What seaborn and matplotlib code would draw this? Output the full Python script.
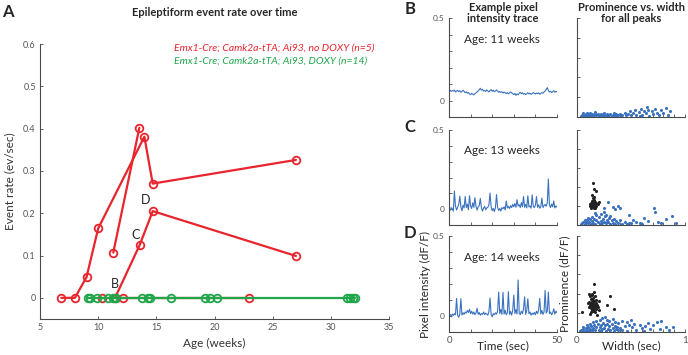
import numpy as np
import matplotlib.pyplot as plt
import seaborn as sns

# ---------------- panel A: event rate per mouse ----------------
red_m1_age = [6.83, 8.0, 9.0, 10.0, 13.97, 14.69, 27.0]
red_m1_rate = [0, 0, 0.049, 0.164, 0.381, 0.27, 0.326]
red_m2_age = [11.3, 13.54]
red_m2_rate = [0.107, 0.402]
red_m3_age = [11.45, 13.57, 14.69, 27.0]
red_m3_rate = [0, 0.125, 0.205, 0.099]
red_m4_age = [10.3, 12.17, 23.0]
red_m4_rate = [0, 0, 0]
green_age = [9.15, 9.3, 9.87, 10.87, 11.3, 11.53, 13.74, 14.26, 14.46, 16.26,
             19.16, 19.62, 20.19, 31.37, 31.65, 31.94, 32.1]
green_rate = [0] * len(green_age)

# ---------------- panels B-D: example traces (dF/F) ----------------
trace_b = [0.058, 0.062, 0.055, 0.060, 0.057, 0.063, 0.052, 0.058, 0.061, 0.054,
           0.059, 0.050, 0.056, 0.062, 0.055, 0.047, 0.052, 0.044, 0.048, 0.040,
           0.036, 0.043, 0.038, 0.034, 0.041, 0.046, 0.052, 0.058, 0.066, 0.074,
           0.063, 0.068, 0.057, 0.061, 0.055, 0.064, 0.058, 0.052, 0.060, 0.066,
           0.056, 0.062, 0.053, 0.058, 0.064, 0.057, 0.050, 0.055, 0.049, 0.053,
           0.045, 0.051, 0.046, 0.042, 0.048, 0.040, 0.046, 0.052, 0.047, 0.041,
           0.036, 0.043, 0.031, 0.040, 0.035, 0.044, 0.049, 0.042, 0.047, 0.038,
           0.043, 0.036, 0.041, 0.047, 0.040, 0.044, 0.037, 0.042, 0.048, 0.043,
           0.039, 0.045, 0.041, 0.046, 0.038, 0.043, 0.048, 0.044, 0.051, 0.058,
           0.066, 0.078, 0.060, 0.052, 0.056, 0.048, 0.054, 0.059, 0.050, 0.055, 0.052]
trace_c = [0.005, -0.008, 0.010, 0.002, -0.012, 0.115, 0.020, -0.005, 0.012, 0.030,
           0.082, 0.015, -0.010, 0.025, 0.008, 0.080, 0.010, 0.032, -0.004, 0.085,
           0.020, 0.004, 0.040, 0.012, 0.072, 0.018, -0.006, 0.015, 0.022, 0.068,
           0.010, -0.012, 0.006, 0.018, -0.004, 0.008, 0.012, 0.030, 0.102, 0.015,
           -0.010, 0.005, -0.015, 0.010, 0.092, 0.012, -0.008, 0.004, -0.012, 0.010,
           0.002, 0.015, -0.005, 0.052, 0.008, 0.018, 0.004, 0.022, 0.010, 0.030,
           0.015, 0.035, 0.012, 0.060, 0.020, 0.028, 0.010, 0.042, 0.015, 0.080,
           0.012, 0.030, 0.008, 0.085, 0.014, 0.020, 0.006, 0.090, 0.018, 0.010,
           0.025, 0.080, 0.012, 0.028, 0.006, 0.015, 0.070, 0.010, 0.022, 0.030,
           0.018, 0.040, 0.190, 0.025, 0.010, 0.032, 0.015, 0.052, 0.008, 0.020, 0.012]
trace_d = [0.002, 0.010, -0.005, 0.012, 0.004, 0.015, 0.008, 0.110, 0.005, -0.008,
           0.012, 0.108, 0.006, 0.020, 0.010, 0.025, 0.018, 0.035, 0.022, 0.042,
           0.015, 0.030, 0.012, 0.025, 0.008, 0.020, 0.048, 0.010, 0.022, 0.005,
           0.015, 0.010, 0.025, 0.008, 0.018, 0.012, 0.005, 0.030, 0.112, 0.010,
           -0.005, 0.015, 0.008, 0.020, 0.012, 0.030, 0.150, 0.015, 0.040, 0.010,
           0.148, 0.012, 0.035, 0.008, 0.020, 0.152, 0.010, 0.028, 0.006, 0.035,
           0.130, 0.015, 0.040, 0.012, 0.225, 0.020, 0.008, 0.030, 0.015, 0.045,
           0.120, 0.010, 0.035, 0.108, 0.015, 0.025, 0.005, 0.018, 0.010, 0.022,
           0.008, 0.030, 0.015, 0.040, 0.110, 0.012, 0.035, 0.010, 0.025, 0.160,
           0.018, 0.030, 0.150, 0.015, 0.025, 0.008, 0.020, 0.045, 0.012, 0.030, 0.020]
trace_ages = ['Age: 11 weeks', 'Age: 13 weeks', 'Age: 14 weeks']

# ---------------- prominence vs width (all peaks / detected events) ----------------
b_blue_w = [0.04, 0.05, 0.06, 0.07, 0.08, 0.09, 0.10, 0.11, 0.12, 0.13,
            0.14, 0.15, 0.16, 0.17, 0.18, 0.19, 0.20, 0.21, 0.22, 0.23,
            0.24, 0.25, 0.26, 0.27, 0.28, 0.29, 0.30, 0.31, 0.32, 0.33,
            0.34, 0.35, 0.36, 0.37, 0.38, 0.40, 0.41, 0.42, 0.44, 0.45,
            0.06, 0.09, 0.13, 0.17, 0.22, 0.47, 0.49, 0.50, 0.52, 0.54,
            0.55, 0.57, 0.59, 0.60, 0.62, 0.64, 0.65, 0.67, 0.69, 0.70,
            0.72, 0.74, 0.76, 0.78, 0.80, 0.82, 0.84, 0.86, 0.58, 0.66]
b_blue_p = [0.006, 0.012, 0.004, 0.010, 0.016, 0.007, 0.013, 0.004, 0.019, 0.009,
            0.014, 0.005, 0.011, 0.017, 0.008, 0.013, 0.004, 0.010, 0.016, 0.007,
            0.012, 0.018, 0.006, 0.011, 0.015, 0.005, 0.009, 0.014, 0.004, 0.012,
            0.020, 0.007, 0.013, 0.005, 0.010, 0.017, 0.006, 0.012, 0.022, 0.008,
            0.018, 0.021, 0.003, 0.024, 0.005, 0.015, 0.030, 0.008, 0.020, 0.035,
            0.012, 0.025, 0.042, 0.010, 0.028, 0.018, 0.048, 0.006, 0.032, 0.015,
            0.040, 0.022, 0.010, 0.035, 0.018, 0.045, 0.012, 0.028, 0.005, 0.036]

c_blue_w = [0.04, 0.05, 0.06, 0.07, 0.08, 0.09, 0.10, 0.11, 0.12, 0.13,
            0.14, 0.15, 0.16, 0.17, 0.18, 0.19, 0.20, 0.21, 0.22, 0.23,
            0.24, 0.25, 0.26, 0.27, 0.28, 0.29, 0.30, 0.31, 0.32, 0.33,
            0.34, 0.35, 0.36, 0.38, 0.40, 0.42, 0.44, 0.46, 0.48, 0.50,
            0.10, 0.14, 0.18, 0.22, 0.25, 0.17, 0.27, 0.31, 0.07, 0.12,
            0.29, 0.33, 0.35, 0.38, 0.40, 0.25, 0.52, 0.55, 0.58, 0.62,
            0.66, 0.71, 0.72, 0.75, 0.78, 0.82, 0.88, 0.92, 0.48, 0.60]
c_blue_p = [0.004, 0.010, 0.018, 0.006, 0.014, 0.024, 0.008, 0.016, 0.030, 0.005,
            0.020, 0.012, 0.034, 0.007, 0.025, 0.015, 0.040, 0.004, 0.022, 0.010,
            0.032, 0.018, 0.045, 0.008, 0.028, 0.014, 0.038, 0.006, 0.024, 0.012,
            0.030, 0.005, 0.020, 0.010, 0.026, 0.006, 0.015, 0.004, 0.012, 0.008,
            0.036, 0.042, 0.052, 0.060, 0.070, 0.065, 0.055, 0.048, 0.026, 0.002,
            0.122, 0.095, 0.085, 0.098, 0.090, 0.088, 0.028, 0.018, 0.012, 0.035,
            0.022, 0.092, 0.070, 0.015, 0.008, 0.030, 0.048, 0.010, 0.055, 0.004]
c_black_w = [0.13, 0.14, 0.15, 0.16, 0.17, 0.14, 0.15, 0.16, 0.13, 0.17,
             0.18, 0.15, 0.14, 0.16, 0.12, 0.18, 0.15, 0.16, 0.17, 0.13,
             0.15, 0.16, 0.18, 0.14, 0.19, 0.20, 0.12, 0.17, 0.16, 0.14]
c_black_p = [0.105, 0.112, 0.098, 0.118, 0.104, 0.095, 0.125, 0.092, 0.118, 0.112,
             0.100, 0.108, 0.102, 0.130, 0.098, 0.115, 0.142, 0.150, 0.088, 0.090,
             0.220, 0.190, 0.180, 0.160, 0.108, 0.120, 0.112, 0.122, 0.100, 0.125]

d_blue_w = [0.03, 0.04, 0.05, 0.06, 0.07, 0.08, 0.09, 0.10, 0.11, 0.12,
            0.13, 0.14, 0.15, 0.16, 0.17, 0.18, 0.19, 0.20, 0.21, 0.22,
            0.23, 0.24, 0.25, 0.26, 0.27, 0.28, 0.29, 0.30, 0.31, 0.32,
            0.33, 0.34, 0.35, 0.36, 0.37, 0.38, 0.40, 0.42, 0.44, 0.46,
            0.06, 0.09, 0.12, 0.15, 0.18, 0.21, 0.23, 0.26, 0.28, 0.30,
            0.33, 0.35, 0.38, 0.14, 0.22, 0.46, 0.48, 0.51, 0.53, 0.55,
            0.58, 0.60, 0.63, 0.66, 0.68, 0.70, 0.74, 0.77, 0.78, 0.82,
            0.85, 0.89, 0.50, 0.42, 0.62]
d_blue_p = [0.004, 0.012, 0.007, 0.016, 0.005, 0.020, 0.010, 0.026, 0.006, 0.018,
            0.030, 0.009, 0.022, 0.035, 0.012, 0.028, 0.042, 0.008, 0.024, 0.038,
            0.015, 0.048, 0.020, 0.034, 0.006, 0.044, 0.016, 0.030, 0.010, 0.040,
            0.022, 0.005, 0.032, 0.014, 0.026, 0.008, 0.020, 0.012, 0.030, 0.006,
            0.028, 0.034, 0.040, 0.050, 0.058, 0.065, 0.072, 0.080, 0.062, 0.055,
            0.068, 0.050, 0.045, 0.002, 0.003, 0.050, 0.036, 0.026, 0.044, 0.012,
            0.038, 0.020, 0.030, 0.047, 0.015, 0.034, 0.052, 0.017, 0.057, 0.024,
            0.010, 0.026, 0.062, 0.058, 0.006]
d_black_w = [0.154, 0.108, 0.120, 0.135, 0.150, 0.165, 0.128, 0.142, 0.158, 0.172,
             0.115, 0.130, 0.145, 0.160, 0.175, 0.120, 0.138, 0.152, 0.168, 0.185,
             0.112, 0.128, 0.146, 0.162, 0.178, 0.135, 0.150, 0.170, 0.190, 0.125,
             0.310, 0.340, 0.280, 0.120, 0.046, 0.185, 0.200, 0.140, 0.160, 0.100,
             0.158, 0.143, 0.131, 0.176, 0.205]
d_black_p = [0.250, 0.198, 0.185, 0.192, 0.178, 0.186, 0.170, 0.165, 0.160, 0.168,
             0.158, 0.152, 0.148, 0.145, 0.150, 0.140, 0.136, 0.132, 0.138, 0.142,
             0.128, 0.124, 0.120, 0.125, 0.118, 0.112, 0.108, 0.105, 0.128, 0.105,
             0.186, 0.120, 0.143, 0.095, 0.103, 0.086, 0.115, 0.200, 0.210, 0.150,
             0.118, 0.158, 0.144, 0.132, 0.160]

RED = '#e8242d'
GREEN = '#1fa64a'
BLUE = '#3a72bf'
AX = '#4a4a4a'

sns.set_style('ticks')
plt.rcParams['font.family'] = ['Lato', 'DejaVu Sans']
plt.rcParams['xtick.direction'] = 'in'
plt.rcParams['ytick.direction'] = 'in'

W, H = 688, 355
fig = plt.figure(figsize=(W / 100, H / 100), dpi=100)


def box(l, t, r, b):
    return [l / W, 1 - b / H, (r - l) / W, (b - t) / H]


def style(ax):
    sns.despine(ax=ax)
    for s in ('left', 'bottom'):
        ax.spines[s].set_color(AX)
        ax.spines[s].set_linewidth(0.8)
    ax.tick_params(length=2.5, width=0.6, color=AX, labelsize=6, labelcolor='#555555', pad=3)


def ftext(x, y, s, **kw):
    fig.text(x / W, 1 - y / H, s, **kw)


# ---- A ----
axA = fig.add_axes(box(40, 44, 389, 319))
line_kw = dict(marker='o', markersize=5.5, markerfacecolor='none', markeredgewidth=1.3,
               linewidth=1.6, sort=False, estimator=None, ax=axA)
for ages, rates in [(red_m4_age, red_m4_rate), (red_m1_age, red_m1_rate),
                    (red_m2_age, red_m2_rate), (red_m3_age, red_m3_rate)]:
    sns.lineplot(x=ages, y=rates, color=RED, markeredgecolor=RED, **line_kw)
sns.lineplot(x=green_age, y=green_rate, color=GREEN, markeredgecolor=GREEN, **line_kw)
axA.set_xlim(5, 35)
axA.set_ylim(-0.05, 0.6)
axA.set_xticks(range(5, 36, 5))
axA.set_yticks([0, 0.1, 0.2, 0.3, 0.4, 0.5, 0.6])
axA.set_yticklabels(['0', '0.1', '0.2', '0.3', '0.4', '0.5', '0.6'])
style(axA)
axA.tick_params(labelsize=6.5)
axA.set_xlabel('Age (weeks)', fontsize=8.5, color='#333333', labelpad=4)
axA.set_ylabel('Event rate (ev/sec)', fontsize=8.5, color='#333333', labelpad=6)
axA.set_title('Epileptiform event rate over time', fontsize=8, fontweight='bold', pad=20)
axA.text(11.45, 0.018, 'B', fontsize=9, ha='center', va='bottom')
axA.text(13.2, 0.135, 'C', fontsize=9, ha='center', va='bottom')
axA.text(14.1, 0.218, 'D', fontsize=9, ha='center', va='bottom')
ftext(174, 48, 'Emx1-Cre; Camk2a-tTA; Ai93, no DOXY (n=5)', color=RED,
      fontsize=7.5, style='italic', va='center')
ftext(174, 61, 'Emx1-Cre; Camk2a-tTA; Ai93, DOXY (n=14)', color=GREEN,
      fontsize=7.5, style='italic', va='center')

# ---- B-D ----
rows = [(18, 117), (130, 225), (236, 332)]
traces = [trace_b, trace_c, trace_d]
scat_blue = [(b_blue_w, b_blue_p), (c_blue_w, c_blue_p), (d_blue_w, d_blue_p)]
scat_black = [None, (c_black_w, c_black_p), (d_black_w, d_black_p)]

for i, (top, bot) in enumerate(rows):
    axt = fig.add_axes(box(449, top, 557, bot))
    tr = traces[i]
    t = np.linspace(0, 50, len(tr))
    sns.lineplot(x=t, y=tr, color=BLUE, linewidth=0.8, ax=axt)
    axt.set_xlim(0, 50)
    axt.set_ylim(-0.1, 0.5)
    axt.set_yticks([0, 0.1, 0.2, 0.3, 0.4, 0.5])
    axt.set_yticklabels(['0', '', '', '', '', '0.5'])
    axt.set_xticks([0, 10, 20, 30, 40, 50])
    style(axt)
    axt.text(0.14, 0.78, trace_ages[i], transform=axt.transAxes, fontsize=8.5, va='center')

    axs = fig.add_axes(box(577, top, 685, bot))
    bw, bp = scat_blue[i]
    sns.scatterplot(x=bw, y=bp, color=BLUE, s=5, linewidth=0, ax=axs)
    if scat_black[i] is not None:
        kw, kp = scat_black[i]
        sns.scatterplot(x=kw, y=kp, color='#222222', s=5, linewidth=0, ax=axs)
    axs.set_xlim(0, 1)
    axs.set_ylim(0, 0.5)
    axs.set_yticks([0, 0.1, 0.2, 0.3, 0.4, 0.5])
    axs.set_yticklabels([])
    axs.set_xticks(np.arange(0, 1.01, 0.1))
    style(axs)

    if i < 2:
        axt.set_xticklabels([])
        axs.set_xticklabels([])
    else:
        axt.set_xticklabels(['0', '', '', '', '', '50'])
        axs.set_xticklabels(['0'] + [''] * 9 + ['1'])
        axt.tick_params(axis='x', labelsize=7, pad=3)
        axs.tick_params(axis='x', labelsize=7, pad=3)
        axt.set_xlabel('Time (sec)', fontsize=8.5)
        axs.set_xlabel('Width (sec)', fontsize=8.5)
        axt.xaxis.set_label_coords(0.5, -0.09)
        axs.xaxis.set_label_coords(0.5, -0.09)
        axt.set_ylabel('Pixel intensity (dF/F)', fontsize=8.5)
        axt.yaxis.set_label_coords(-0.17, 0.5)
        axs.set_ylabel('Prominence (dF/F)', fontsize=8.5, labelpad=2)

# column headers and panel letters
ftext(503, 13, 'Example pixel\nintensity trace', fontsize=8, fontweight='bold',
      ha='center', va='center', linespacing=1.0)
ftext(631, 13, 'Prominence vs. width\nfor all peaks', fontsize=8, fontweight='bold',
      ha='center', va='center', linespacing=1.0)
ftext(8, 12, 'A', fontsize=12, fontweight='bold', ha='center', va='center')
ftext(410, 9, 'B', fontsize=12, fontweight='bold', ha='center', va='center')
ftext(410, 127, 'C', fontsize=12, fontweight='bold', ha='center', va='center')
ftext(410, 233, 'D', fontsize=12, fontweight='bold', ha='center', va='center')

fig.savefig('out.png', dpi=100)
